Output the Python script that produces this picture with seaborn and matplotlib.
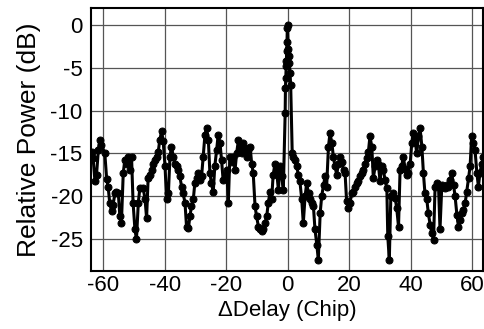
import numpy as np
import pandas as pd
import matplotlib
matplotlib.use("Agg")
import matplotlib.pyplot as plt
import seaborn as sns

# Correlation profile: relative power versus delay offset
delay_chip = [
    -63.8, -63.3, -62.7, -62.2, -61.6, -61.1, -60.6, -59.5, -58.9, -58.4,
    -57.9, -57.3, -56.8, -56.2, -55.7, -55.1, -54.6, -54.1, -53.5, -53.0,
    -52.4, -51.9, -51.3, -50.8, -50.3, -49.7, -49.2, -48.6, -48.1, -47.0,
    -46.4, -45.9, -45.4, -44.8, -44.3, -43.7, -43.2, -42.6, -42.1, -41.6,
    -41.0, -40.5, -39.9, -39.4, -38.8, -38.3, -37.8, -37.2, -36.7, -36.1,
    -35.6, -35.1, -34.5, -34.0, -33.4, -32.9, -32.3, -31.8, -31.3, -30.7,
    -30.2, -29.6, -29.1, -28.5, -28.0, -27.5, -26.9, -26.4, -25.8, -25.3,
    -24.8, -24.2, -23.7, -23.1, -22.6, -22.0, -21.5, -21.0,
    -19.8, -19.3, -18.8, -18.2, -17.7, -17.1, -16.6, -16.0, -15.5, -15.0,
    -14.4, -13.9, -13.3, -12.8, -12.2, -11.7, -11.2, -10.6, -10.1, -9.5,
    -9.0, -8.4, -7.9, -7.4, -6.8, -6.3, -5.7, -5.2, -4.7, -4.1,
    -3.6, -3.0, -2.5, -1.9, -1.4,
    -0.8, -0.7, -0.6, -0.5, -0.4, -0.3, -0.2, -0.1, 0.0, 0.2,
    0.4, 0.6, 0.8, 1.0, 1.5,
    1.9, 2.4, 2.9, 3.5, 4.0, 4.6, 5.1, 5.7, 6.2, 6.8,
    7.3, 7.8, 8.4, 8.9, 9.5, 10.0, 10.6, 11.1, 11.7, 12.2,
    12.7, 13.3, 13.8,
    14.4, 14.9, 15.4, 16.0, 16.5, 17.1, 17.6, 18.2, 18.7, 19.2,
    19.8, 20.3, 20.9, 21.4, 21.9, 22.5, 23.0, 23.6, 24.1, 24.6,
    25.2, 25.7, 26.3, 26.8, 27.4, 27.9, 28.5, 29.0, 29.5, 30.1,
    30.6, 31.2, 31.7, 32.3, 32.6, 33.1, 33.6, 34.2, 35.0, 35.5,
    36.1, 36.6, 37.1, 37.7, 38.2, 38.8, 39.3, 39.9, 40.4, 40.9,
    41.5, 42.0, 42.6, 43.1, 43.7, 44.2, 44.7, 45.3, 45.8, 46.4,
    46.9, 47.5, 48.0, 48.5, 49.1, 49.6, 50.2, 50.7, 51.3, 51.8,
    52.3, 52.9, 53.4, 54.0, 54.5, 55.1, 55.6, 56.1, 56.7, 57.2,
    57.8, 58.3, 58.9, 59.4, 59.9, 60.5, 61.0, 61.6, 62.1, 62.6,
    63.2, 63.7,
]
power_db = [
    -14.8, -15.6, -18.3, -17.5, -14.6, -13.4, -14.0, -15.0, -18.0, -19.0,
    -20.8, -21.8, -21.0, -19.7, -19.5, -19.7, -22.4, -23.2, -17.3, -15.8,
    -16.2, -15.4, -17.0, -15.4, -20.8, -23.9, -25.1, -20.8, -19.1, -19.1,
    -20.4, -22.6, -17.9, -17.5, -17.0, -16.3, -15.8, -15.4, -14.8, -13.4,
    -12.4, -13.6, -16.5, -20.4, -19.7, -15.4, -14.2, -15.4, -16.2, -16.5,
    -17.0, -17.7, -18.9, -19.7, -20.8, -23.6, -23.8, -22.4, -21.2, -20.4,
    -18.5, -17.9, -17.3, -18.1, -17.7, -15.4, -12.8, -12.0, -13.4, -17.3,
    -18.5, -19.5, -16.5, -14.6, -12.8, -13.8, -15.8, -18.1,
    -17.0, -20.8, -15.4, -16.0, -15.4, -16.9, -15.0, -13.4, -14.4, -15.0,
    -13.8, -14.4, -15.4, -14.6, -14.2, -16.2, -17.3, -21.2, -22.4, -23.6,
    -23.9, -24.1, -23.9, -23.2, -22.4, -20.8, -19.5, -20.4, -17.5, -16.2,
    -17.0, -19.3, -16.5, -17.7, -19.3,
    -10.3, -7.3, -6.2, -4.8, -4.2, -3.0, -1.9, -0.3, 0.0, -2.8,
    -3.6, -4.4, -5.6, -7.0, -15.0,
    -15.4, -15.8, -16.5, -17.5, -18.3, -20.4, -23.2, -20.0, -18.5, -19.7,
    -20.4, -20.8, -21.2, -23.9, -25.7, -27.5, -22.0, -20.0, -18.7, -17.7,
    -18.9, -14.2, -12.6,
    -13.8, -15.4, -16.5, -17.5, -16.2, -15.4, -16.0, -17.0, -17.3, -20.6,
    -21.4, -20.8, -19.7, -19.5, -18.9, -18.5, -18.3, -17.7, -17.3, -17.0,
    -16.2, -15.6, -14.8, -13.0, -14.2, -17.9, -16.5, -15.8, -16.2, -18.3,
    -16.5, -17.0, -18.1, -19.1, -24.7, -27.5, -20.0, -19.7, -20.2, -21.4,
    -23.6, -17.0, -16.5, -15.4, -16.8, -17.5, -17.3, -16.2, -13.8, -12.6,
    -13.4, -15.0, -13.0, -12.0, -14.2, -17.3, -19.7, -20.4, -22.0, -23.4,
    -24.3, -25.2, -18.9, -18.5, -18.7, -23.9, -18.7, -18.9, -19.1, -18.7,
    -18.9, -18.1, -17.3, -18.7, -20.0, -22.2, -23.6, -22.8, -22.0, -21.6,
    -20.8, -19.5, -17.9, -16.5, -13.0, -13.8, -14.6, -17.3, -18.9, -17.3,
    -16.2, -15.4,
]

x_ticks = [-60, -40, -20, 0, 20, 40, 60]
x_tick_labels = ["-60", "-40", "-20", "0", "20", "40", "60"]
y_ticks = [0, -5, -10, -15, -20, -25]
y_tick_labels = ["0", "-5", "-10", "-15", "-20", "-25"]

df = pd.DataFrame({"delay": delay_chip, "power": power_db})

sns.set_theme(style="white")
plt.rcParams["font.family"] = ["Liberation Sans", "DejaVu Sans"]
plt.rcParams["axes.unicode_minus"] = False

fig = plt.figure(figsize=(4.85, 3.29), dpi=100)
ax = fig.add_axes([0.1876, 0.1763, 0.8083, 0.7994])

sns.lineplot(data=df, x="delay", y="power", ax=ax, estimator=None, sort=False,
             color="black", linewidth=2.2, marker="o", markersize=5,
             markeredgecolor="black", markerfacecolor="black")

ax.set_xlim(-64.0, 63.6)
ax.set_ylim(-28.8, 2.05)
ax.set_xticks(x_ticks)
ax.set_xticklabels(x_tick_labels)
ax.set_yticks(y_ticks)
ax.set_yticklabels(y_tick_labels)
ax.tick_params(axis="both", length=0, labelsize=16, colors="black")
ax.tick_params(axis="y", pad=6)
ax.tick_params(axis="x", pad=3)

ax.grid(True, color="#555555", linewidth=0.9)
ax.set_axisbelow(True)
for s in ax.spines.values():
    s.set_color("black")
    s.set_linewidth(1.5)

ax.set_xlabel("\u0394Delay (Chip)", fontsize=16, color="black", labelpad=3)
ax.set_ylabel("Relative Power (dB)", fontsize=19, color="black", labelpad=7)

fig.savefig("out.png", dpi=100)
